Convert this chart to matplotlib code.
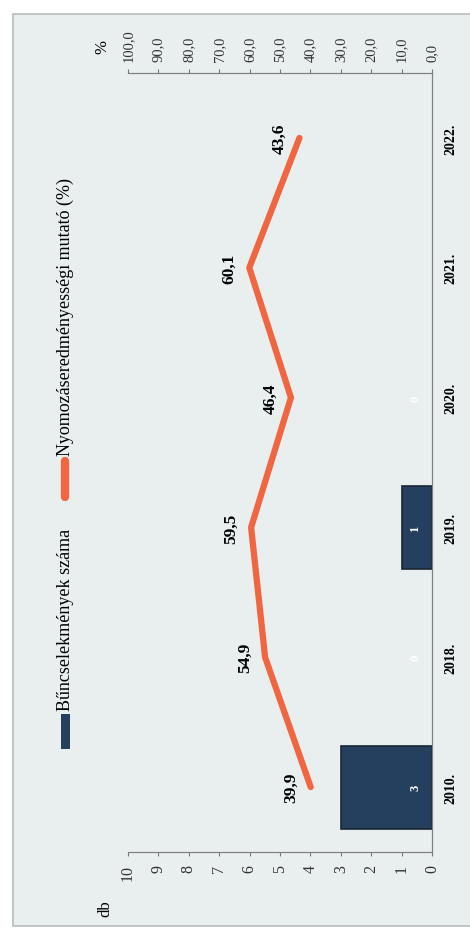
import matplotlib
matplotlib.use("Agg")
import matplotlib.pyplot as plt
from matplotlib.patches import Rectangle
from matplotlib.lines import Line2D

years = ["2010.", "2018.", "2019.", "2020.", "2021.", "2022."]
cases = [3, 0, 1, 0, 0, 0]
rate = [39.9, 54.9, 59.5, 46.4, 60.1, 43.6]
db_ticks = list(range(0, 11))
pct_ticks = [0, 10, 20, 30, 40, 50, 60, 70, 80, 90, 100]

bg = "#e9efef"
navy = "#253f5e"
orange = "#ef6640"
serif = ["Liberation Serif", "DejaVu Serif"]
plt.rcParams["font.family"] = serif

W, H = 470, 929
fig = plt.figure(figsize=(W / 100, H / 100), dpi=100)
fig.patch.set_facecolor("white")

# scanned page panel
fig.patches.append(Rectangle((13 / W, 1 - 927 / H), 1.2, (927 - 15) / H,
                             transform=fig.transFigure, facecolor=bg,
                             edgecolor="#b8bcbc", lw=1.2, zorder=-10))

# the chart is printed turned 90 degrees, so categories run bottom to top
ax = fig.add_axes([128 / W, 1 - 853 / H, (432 - 128) / W, (853 - 74) / H])
ax.patch.set_alpha(0)
pos = list(range(len(years)))
widths = [0.64 if c else 0 for c in cases]
ax.barh(pos, cases, height=widths, color=navy, edgecolor="#1a2636",
        lw=[1.2 if c else 0 for c in cases], zorder=2)
for p, c in zip(pos, cases):
    if c or p in (1, 3):
        ax.text(0.55, p, str(c), rotation=90, color="white",
                fontsize=9, fontweight="bold", ha="center", va="center", zorder=3)
ax.set_xlim(10, 0)
ax.set_ylim(-0.5, len(years) - 0.5)
ax.set_xticks(db_ticks)
ax.set_xticklabels([str(t) for t in db_ticks], rotation=90, fontsize=11.5, color="#333333")
ax.yaxis.tick_right()
ax.set_yticks(pos)
ax.set_yticklabels(years, rotation=90, fontsize=10, fontweight="bold", va="center")
ax.tick_params(axis="y", length=0, pad=9)
ax.tick_params(axis="x", length=3, color="#777777", pad=6)
ax.spines["left"].set_visible(False)
for s in ("bottom", "right", "top"):
    ax.spines[s].set_color("#808080")

ax2 = ax.twiny()
ax2.plot(rate, pos, color=orange, lw=4.5, solid_capstyle="round", zorder=4)
for p, r in zip(pos, rate):
    ax2.annotate(f"{r:.1f}".replace(".", ","), (r, p), xytext=(-12, 0),
                 textcoords="offset pixels", rotation=90, ha="right", va="center",
                 fontsize=12.5, fontweight="bold")
ax2.set_xlim(100, 0)
ax2.set_xticks(pct_ticks)
ax2.set_xticklabels([f"{t:.1f}".replace(".", ",") for t in pct_ticks],
                    rotation=90, fontsize=10.5, color="#333333")
ax2.tick_params(axis="x", length=3, color="#777777", pad=6)
ax2.spines["left"].set_visible(False)
for s in ("bottom", "right", "top"):
    ax2.spines[s].set_color("#808080")

# axis titles
fig.text(105 / W, 1 - 909 / H, "db", rotation=90, fontsize=12, ha="center", va="center")
fig.text(102 / W, 1 - 47 / H, "%", rotation=90, fontsize=12, ha="center", va="center")

# legend, turned like the rest
fig.patches.append(Rectangle((61 / W, 1 - 750 / H), 9 / W, 35 / H,
                             transform=fig.transFigure, facecolor=navy, edgecolor="none"))
fig.text(65 / W, 1 - 711 / H, "Bűncselekmények száma", rotation=90, fontsize=13,
         ha="center", va="bottom")
fig.lines.append(Line2D([65 / W, 65 / W], [1 - 498 / H, 1 - 462 / H], transform=fig.transFigure,
                        color=orange, lw=6, solid_capstyle="round"))
fig.text(65 / W, 1 - 456 / H, "Nyomozáseredményességi mutató (%)", rotation=90,
         fontsize=13, ha="center", va="bottom")

fig.savefig("out.png", dpi=100)
